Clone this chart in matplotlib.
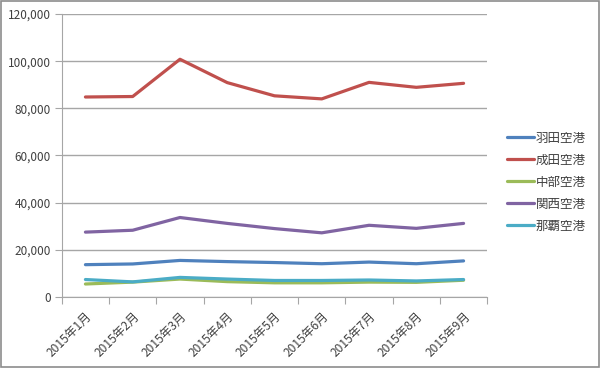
import matplotlib
matplotlib.use("Agg")
import matplotlib.pyplot as plt
from matplotlib.ticker import FuncFormatter, MultipleLocator
from matplotlib.patches import Rectangle

plt.rcParams['font.family'] = ['Noto Sans CJK JP', 'DejaVu Sans']

months = ["2015年1月", "2015年2月", "2015年3月", "2015年4月", "2015年5月",
          "2015年6月", "2015年7月", "2015年8月", "2015年9月"]
haneda = [13700, 14000, 15500, 15000, 14600, 14100, 14800, 14100, 15300]
narita = [84800, 85000, 100800, 90900, 85300, 84000, 91000, 88900, 90600]
chubu = [5500, 6300, 7600, 6500, 6000, 6000, 6300, 6200, 7100]
kansai = [27500, 28300, 33700, 31200, 29000, 27200, 30400, 29100, 31200]
naha = [7400, 6400, 8300, 7600, 7000, 7000, 7200, 6800, 7400]

series = [("羽田空港", haneda, "#4F81BD"),
          ("成田空港", narita, "#C0504D"),
          ("中部空港", chubu, "#9BBB59"),
          ("関西空港", kansai, "#8064A2"),
          ("那覇空港", naha, "#4BACC6")]

fig = plt.figure(figsize=(6, 3.68), dpi=100)
ax = fig.add_axes([0.103, 0.193, 0.709, 0.769])

x = list(range(len(months)))
for name, vals, col in series:
    ax.plot(x, vals, color=col, lw=2.3, label=name, solid_capstyle='round', solid_joinstyle='round')

ax.set_xlim(-0.5, len(months) - 0.5)
ax.set_ylim(0, 120000)
ax.yaxis.set_major_locator(MultipleLocator(20000))
ax.yaxis.set_major_formatter(FuncFormatter(lambda v, p: f"{int(v):,}"))
ax.grid(axis='y', color='#A6A6A6', lw=1)
ax.set_axisbelow(True)

for s in ['top', 'right']:
    ax.spines[s].set_visible(False)
ax.spines['left'].set_color('#A6A6A6')
ax.spines['bottom'].set_color('#A6A6A6')

ax.set_xticks([i - 0.5 for i in range(len(months) + 1)], minor=False)
ax.set_xticklabels([])
ax.tick_params(axis='x', which='major', length=5, color='#A6A6A6')
ax.set_xticks(x, minor=True)
ax.set_xticklabels(months, minor=True, rotation=45, ha='right', va='top',
                   rotation_mode='anchor', fontsize=8.6, color='#404040')
ax.tick_params(axis='x', which='minor', length=0, pad=9)
ax.tick_params(axis='y', length=5, color='#A6A6A6', labelsize=8.5, labelcolor='#404040', pad=3)

leg = ax.legend(loc='center left', bbox_to_anchor=(1.02, 0.405), frameon=False,
                fontsize=9, handlelength=2.2, handletextpad=0.1, labelspacing=0.72)
for t in leg.get_texts():
    t.set_color('#404040')

fig.patches.append(Rectangle((0.002, 0.003), 0.996, 0.994, transform=fig.transFigure,
                             fill=False, edgecolor='#8C8C8C', lw=1.2))

fig.savefig("out.png", dpi=100)
